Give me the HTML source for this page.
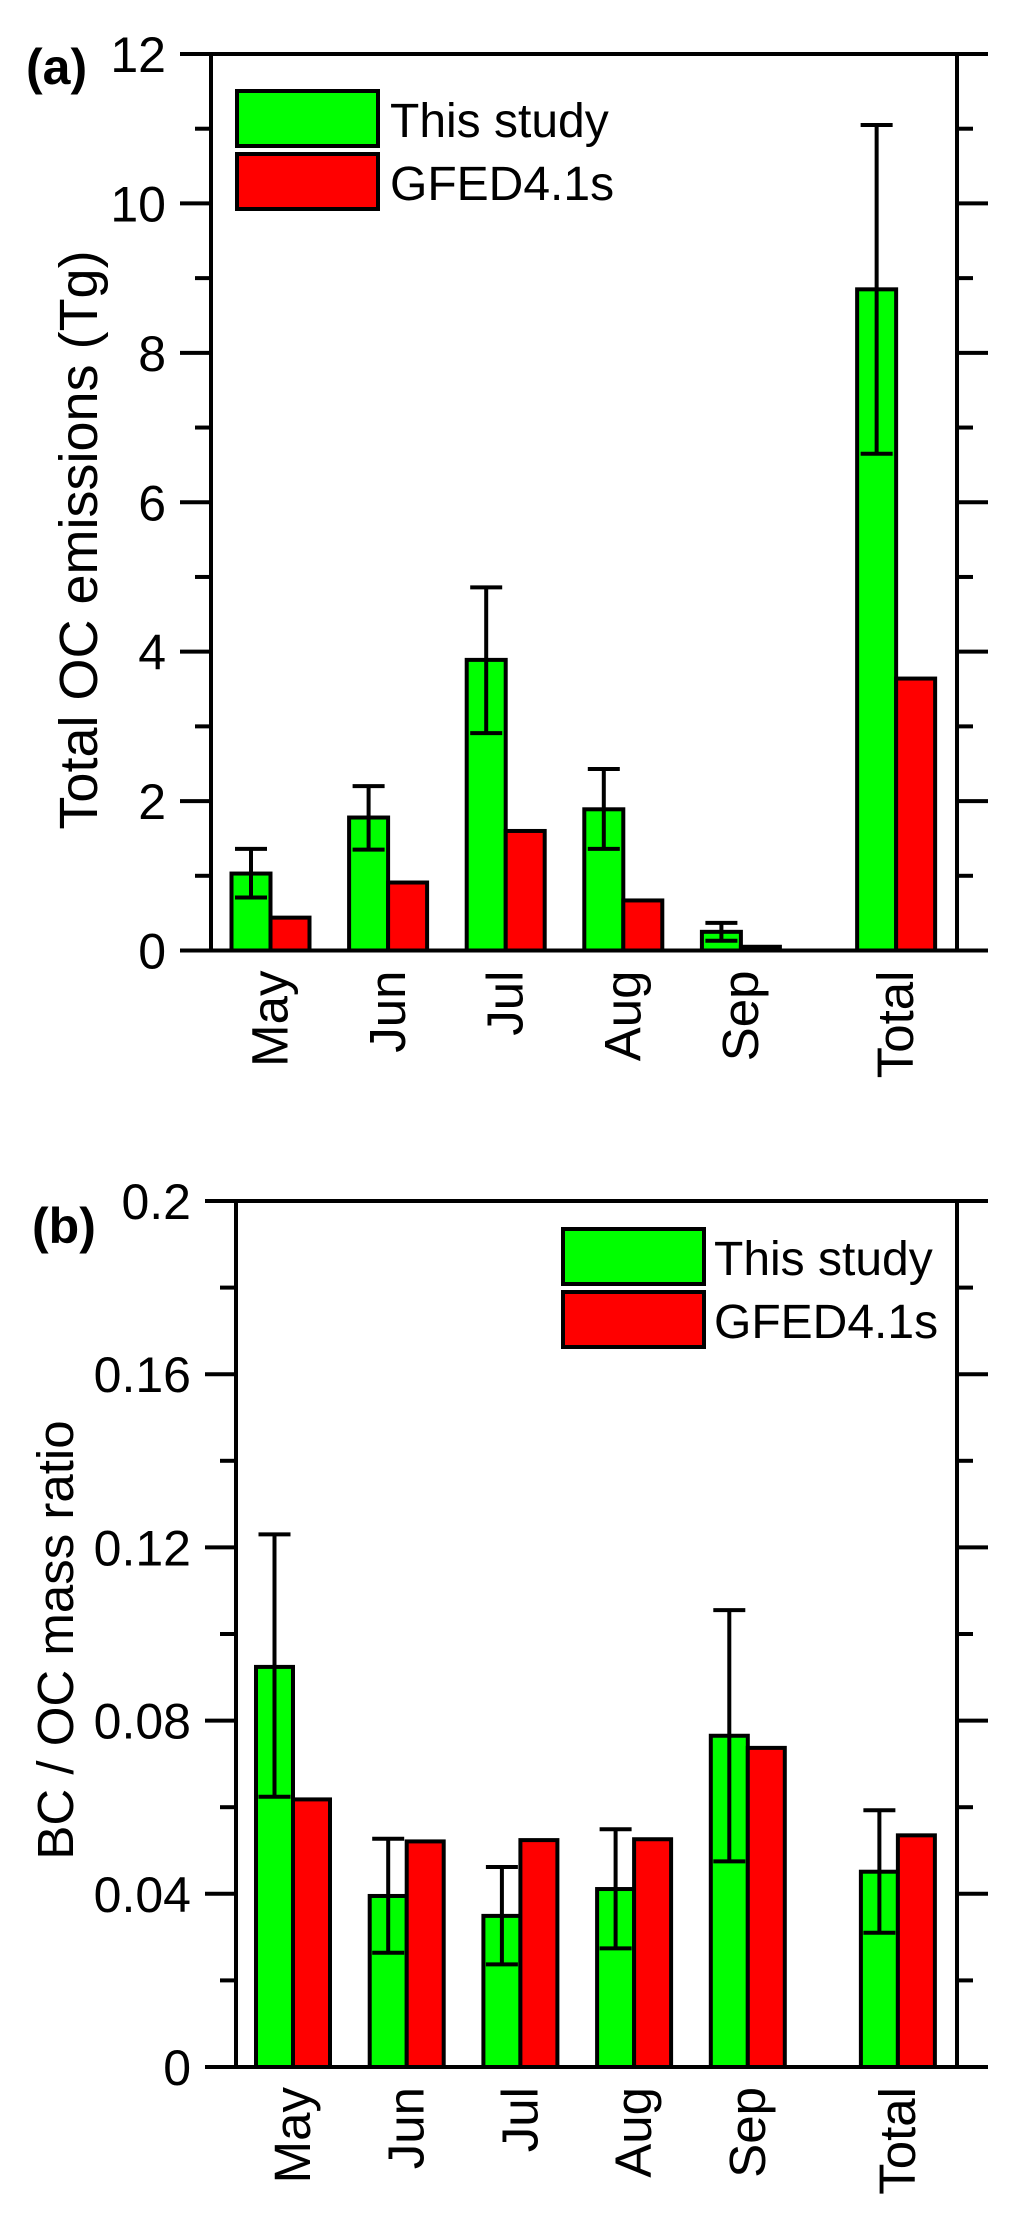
<!DOCTYPE html>
<html><head><meta charset="utf-8">
<style>
html,body{margin:0;padding:0;background:#fff;}
svg{display:block;font-family:"Liberation Sans",Arial,sans-serif;}
</style></head>
<body>
<svg id="fig" width="1018" height="2238" viewBox="0 0 1018 2238" xmlns="http://www.w3.org/2000/svg">
<rect x="0" y="0" width="1018" height="2238" fill="#fff"/>
<g id="pa"></g>
<g id="pb"></g>
</svg>
<script>
const categories = ["May","Jun","Jul","Aug","Sep","Total"];
const ocThisStudy = [1.03, 1.78, 3.89, 1.89, 0.25, 8.85];
const ocThisStudyHigh = [1.36, 2.20, 4.86, 2.43, 0.37, 11.05];
const ocThisStudyLow = [0.71, 1.35, 2.91, 1.36, 0.13, 6.65];
const ocGfed = [0.44, 0.91, 1.60, 0.67, 0.05, 3.64];
const ocTicks = [0, 2, 4, 6, 8, 10, 12];
const ocTickLabels = ["0","2","4","6","8","10","12"];

const ratioThisStudy = [0.0924, 0.0395, 0.0349, 0.0411, 0.0765, 0.0451];
const ratioThisStudyHigh = [0.123, 0.0527, 0.0462, 0.0549, 0.1055, 0.0593];
const ratioThisStudyLow = [0.0624, 0.0264, 0.0237, 0.0274, 0.0475, 0.0310];
const ratioGfed = [0.0618, 0.0521, 0.0524, 0.0526, 0.0737, 0.0535];
const ratioTicks = [0, 0.04, 0.08, 0.12, 0.16, 0.2];
const ratioTickLabels = ["0","0.04","0.08","0.12","0.16","0.2"];

const NS = "http://www.w3.org/2000/svg";
function mk(parent, tag, attrs, text){
  const e = document.createElementNS(NS, tag);
  for (const k in attrs) e.setAttribute(k, attrs[k]);
  if (text !== undefined) e.textContent = text;
  parent.appendChild(e);
  return e;
}

function drawPanel(g, cfg){
  const {left,right,top,bottom,ymax,x0,step,bw,green,greenHi,greenLo,red,ticks,tickLabels,minorStep,title,titleX,titleY,titleSize,letter,letterX,letterY,legX,legY,legTextX} = cfg;
  const y = v => bottom - (v/ymax)*(bottom-top);
  const cx = i => x0 + step*(i + (i===5 ? 0.32 : 0));
  for (let i=0;i<categories.length;i++){
    const c = cx(i);
    const gb = mk(g,'rect',{x:c-bw,y:y(green[i]),width:bw,height:bottom-y(green[i]),fill:'#00ff00',stroke:'#000','stroke-width':4});
    
    
    const rb = mk(g,'rect',{x:c,y:y(red[i]),width:bw,height:Math.max(bottom-y(red[i]),0.5),fill:'#ff0000',stroke:'#000','stroke-width':4});
    
    
    const ex = c - bw/2;
    const eg = mk(g,'g',{stroke:'#000','stroke-width':4,fill:'none'});
    
    
    mk(eg,'line',{x1:ex,x2:ex,y1:y(greenHi[i]),y2:y(greenLo[i])});
    mk(eg,'line',{x1:ex-16,x2:ex+16,y1:y(greenHi[i]),y2:y(greenHi[i])});
    mk(eg,'line',{x1:ex-16,x2:ex+16,y1:y(greenLo[i]),y2:y(greenLo[i])});
    const t = mk(g,'text',{x:0,y:0,'font-size':51,'text-anchor':'end',transform:`translate(${c+17},${bottom+20}) rotate(-90)`},categories[i]);
    
    
  }
  const fr = mk(g,'g',{stroke:'#000','stroke-width':4,fill:'none'});
  
  
  mk(fr,'line',{x1:left-31,x2:right+31,y1:top,y2:top});
  mk(fr,'line',{x1:left-31,x2:right+31,y1:bottom,y2:bottom});
  mk(fr,'line',{x1:left,x2:left,y1:top,y2:bottom});
  mk(fr,'line',{x1:right,x2:right,y1:top,y2:bottom});
  for (let v=minorStep; v<ymax-1e-9; v+=minorStep){
    const isMajor = ticks.some(t=>Math.abs(t-v)<1e-9);
    const L = isMajor?31:16;
    mk(fr,'line',{x1:left-L,x2:left,y1:y(v),y2:y(v)});
    mk(fr,'line',{x1:right,x2:right+L,y1:y(v),y2:y(v)});
  }
  for (let k=0;k<ticks.length;k++){
    const t = mk(g,'text',{x:left-45,y:y(ticks[k])+18,'font-size':50,'text-anchor':'end'},tickLabels[k]);
    
    
  }
  const yt = mk(g,'text',{x:0,y:0,'font-size':titleSize,'text-anchor':'middle',transform:`translate(${titleX},${titleY}) rotate(-90)`},title);
  
  
  const pl = mk(g,'text',{x:letterX,y:letterY,'font-size':50,'font-weight':'bold'},letter);
  
  
  const lg = mk(g,'g',{});
  
  
  mk(lg,'rect',{x:legX,y:legY,width:141,height:55,fill:'#00ff00',stroke:'#000','stroke-width':4});
  mk(lg,'rect',{x:legX,y:legY+63,width:141,height:55,fill:'#ff0000',stroke:'#000','stroke-width':4});
  const l1 = mk(lg,'text',{x:legTextX,y:legY+46,'font-size':48},'This study');
  
  
  const l2 = mk(lg,'text',{x:legTextX,y:legY+109,'font-size':48},'GFED4.1s');
  
  
}

drawPanel(document.getElementById('pa'),{
  left:211,right:957,top:54,bottom:950.5,ymax:12,x0:270.5,step:117.6,bw:39,
  green:ocThisStudy,greenHi:ocThisStudyHigh,greenLo:ocThisStudyLow,red:ocGfed,
  ticks:ocTicks,tickLabels:ocTickLabels,minorStep:1,
  title:'Total OC emissions (Tg)',titleX:97,titleY:540,titleSize:54,letter:'(a)',letterX:26,letterY:84,
  legX:237,legY:91,legTextX:390
});
drawPanel(document.getElementById('pb'),{
  left:236,right:957,top:1201,bottom:2067,ymax:0.2,x0:293,step:113.7,bw:37,
  green:ratioThisStudy,greenHi:ratioThisStudyHigh,greenLo:ratioThisStudyLow,red:ratioGfed,
  ticks:ratioTicks,tickLabels:ratioTickLabels,minorStep:0.02,
  title:'BC / OC mass ratio',titleX:73,titleY:1640,titleSize:51,letter:'(b)',letterX:32,letterY:1243,
  legX:563,legY:1229,legTextX:714
});
</script>
</body></html>
